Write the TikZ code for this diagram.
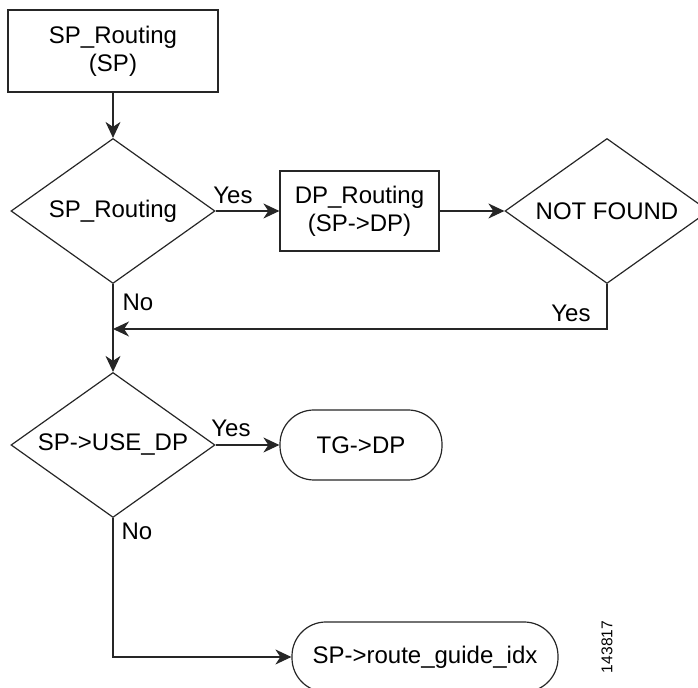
\documentclass[tikz,border=0pt]{standalone}
\usepackage{fontspec}
\setmainfont{Liberation Sans}
\usetikzlibrary{arrows.meta,shapes.geometric}
\tikzset{
	chart/.style={line width=0.6pt, color=black!85, text=black, font=\fontsize{12}{14}\selectfont, align=center},
	procbox/.style={chart, draw, rectangle, inner sep=0pt},
	decision/.style={chart, draw, diamond, aspect=1.4, inner sep=1pt, minimum width=102pt, minimum height=72.5pt},
	endbox/.style={chart, draw, rectangle, rounded corners=17pt, inner sep=0pt, minimum height=35pt},
	flow/.style={line width=0.6pt, color=black!85, -{Stealth[length=8pt,width=7.5pt,inset=2.5pt]}},
	link/.style={line width=0.6pt, color=black!85},
	answer/.style={font=\fontsize{12}{14}\selectfont, inner sep=0pt}
}

\begin{document}
\begin{tikzpicture}[x=0.5pt, y=-0.5pt]
			%%%%% START %%%%%
			\useasboundingbox (0, 0) rectangle (698, 688);
			
			\node[procbox, minimum width=105pt, minimum height=41pt] (sprouting) at (113, 51) {SP\_Routing\\(SP)};
			\node[decision] (spcheck) at (113, 211) {SP\_Routing};
			\node[procbox, minimum width=79.5pt, minimum height=40pt] (dprouting) at (359.5, 211) {DP\_Routing\\(SP->DP)};
			\node[decision] (notfound) at (607, 211) {NOT FOUND};
			\node[decision] (usedp) at (113, 445) {SP->USE\_DP};
			\node[endbox, minimum width=81pt] (tgdp) at (361, 445) {TG->DP};
			\node[endbox, minimum width=133pt] (guide) at (425, 657) {SP->route\_guide\_idx};
			
			\coordinate (join) at (113, 329);
			
			\draw[flow] (sprouting) -- (spcheck);
			\draw[flow] (spcheck.east) -- (dprouting.west);
			\draw[flow] (dprouting.east) -- (notfound.west);
			\draw[flow] (notfound.south) |- (join);
			\draw[flow] (spcheck.south) -- (usedp.north);
			\draw[flow] (usedp.east) -- (tgdp.west);
			\draw[flow] (usedp.south) |- (guide.west);
			
			\node[answer] (yesone) at (233, 195) {Yes};
			\node[answer] (noone) at (138, 302) {No};
			\node[answer] (yestwo) at (571, 313) {Yes};
			\node[answer] (yesthree) at (231, 428) {Yes};
			\node[answer] (notwo) at (137, 531) {No};
			
			\node[font=\fontsize{7.8}{9}\selectfont, rotate=90, inner sep=0pt] (figid) at (607, 647) {143817};
			%%%%% END %%%%%
\end{tikzpicture}
\end{document}
